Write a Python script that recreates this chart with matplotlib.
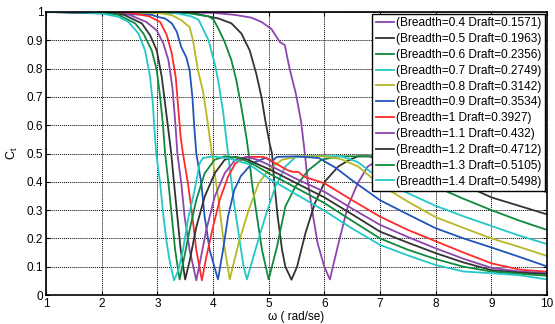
import matplotlib
matplotlib.use("Agg")
import matplotlib.pyplot as plt

plt.rcParams['font.family'] = ['Liberation Sans', 'DejaVu Sans']

labels = ["(Breadth=0.4 Draft=0.1571)", "(Breadth=0.5 Draft=0.1963)",
          "(Breadth=0.6 Draft=0.2356)", "(Breadth=0.7 Draft=0.2749)",
          "(Breadth=0.8 Draft=0.3142)", "(Breadth=0.9 Draft=0.3534)",
          "(Breadth=1 Draft=0.3927)", "(Breadth=1.1 Draft=0.432)",
          "(Breadth=1.2 Draft=0.4712)", "(Breadth=1.3 Draft=0.5105)",
          "(Breadth=1.4 Draft=0.5498)"]
colors = ["#8e44ad", "#333333", "#0f8a3c", "#22c8c8", "#b8b825", "#2255bb",
          "#ff2a2a", "#8e44ad", "#333333", "#0f8a3c", "#22c8c8"]

w_04 = [1, 4.0, 4.39, 4.69, 4.87, 5.05, 5.2, 5.29, 5.37, 5.49, 5.58, 5.65, 5.7, 5.79, 5.88, 6.0, 6.1,
        6.24, 6.42, 6.6, 6.78, 7.0, 7.3, 8.0, 8.5, 9.0, 9.5, 10]
ct_04 = [1, 0.997, 0.99, 0.98, 0.965, 0.94, 0.894, 0.883, 0.805, 0.71, 0.616, 0.5, 0.406, 0.288, 0.182, 0.1, 0.055,
         0.171, 0.312, 0.395, 0.454, 0.48, 0.49, 0.49, 0.47, 0.44, 0.41, 0.362]

w_05 = [1, 3.6, 4.1, 4.33, 4.51, 4.66, 4.78, 4.87, 4.94, 5.02, 5.06, 5.1, 5.16, 5.24, 5.3, 5.41,
        5.51, 5.66, 5.83, 6.01, 6.25, 6.43, 6.6, 7.2, 7.6, 8.0, 8.5, 9.0, 9.5, 10]
ct_05 = [1, 0.997, 0.977, 0.96, 0.924, 0.864, 0.78, 0.7, 0.616, 0.533, 0.5, 0.4, 0.28, 0.16, 0.1, 0.054,
         0.1, 0.218, 0.324, 0.401, 0.454, 0.475, 0.49, 0.49, 0.475, 0.44, 0.39, 0.345, 0.315, 0.285]

w_06 = [1, 3.5, 3.92, 4.01, 4.1, 4.21, 4.33, 4.42, 4.51, 4.6, 4.64, 4.7, 4.79, 4.88, 5.0,
        5.15, 5.3, 5.48, 5.72, 5.95, 6.25, 6.8, 7.2, 7.5, 8.0, 8.5, 9.0, 9.5, 10]
ct_06 = [1, 0.997, 0.985, 0.973, 0.94, 0.894, 0.83, 0.758, 0.663, 0.557, 0.5, 0.395, 0.277, 0.159, 0.055,
         0.171, 0.313, 0.383, 0.442, 0.478, 0.49, 0.49, 0.465, 0.44, 0.383, 0.34, 0.3, 0.263, 0.23]

w_07 = [1, 3.3, 3.6, 3.74, 3.92, 4.04, 4.1, 4.18, 4.27, 4.37, 4.46, 4.55, 4.61,
        4.76, 4.94, 5.12, 5.3, 5.48, 5.8, 6.3, 6.6, 7.0, 7.5, 8.0, 8.5, 9.0, 9.5, 10]
ct_07 = [1, 0.997, 0.985, 0.973, 0.9, 0.81, 0.75, 0.65, 0.5, 0.335, 0.217, 0.1, 0.055,
         0.159, 0.277, 0.383, 0.454, 0.487, 0.492, 0.49, 0.47, 0.41, 0.36, 0.315, 0.278, 0.244, 0.21, 0.18]

w_08 = [1, 3.0, 3.26, 3.43, 3.54, 3.58, 3.64, 3.73, 3.82, 3.9, 3.98, 4.1, 4.19, 4.3,
        4.46, 4.64, 4.82, 5.0, 5.24, 5.54, 6.0, 6.3, 6.6, 7.0, 7.5, 8.0, 8.5, 9.0, 9.5, 10]
ct_08 = [1, 0.997, 0.989, 0.971, 0.953, 0.947, 0.9, 0.794, 0.72, 0.616, 0.5, 0.335, 0.19, 0.055,
         0.183, 0.3, 0.395, 0.442, 0.478, 0.49, 0.49, 0.48, 0.455, 0.39, 0.33, 0.275, 0.237, 0.2, 0.17, 0.138]

w_09 = [1, 2.9, 3.0, 3.14, 3.26, 3.35, 3.43, 3.52, 3.58, 3.63, 3.66, 3.7, 3.79, 3.85, 3.94, 4.09,
        4.18, 4.27, 4.38, 4.5, 4.7, 4.95, 5.05, 5.15, 5.5, 5.9, 6.2, 6.5, 7.0, 7.5, 8.0, 8.5, 9.0, 9.5, 10]
ct_09 = [1, 0.99, 0.983, 0.977, 0.96, 0.93, 0.876, 0.84, 0.794, 0.7, 0.604, 0.5, 0.395, 0.277, 0.159, 0.055,
         0.159, 0.277, 0.37, 0.42, 0.465, 0.485, 0.472, 0.488, 0.49, 0.484, 0.45, 0.405, 0.335, 0.285, 0.236, 0.2, 0.168, 0.135, 0.101]

w_10 = [1, 2.5, 2.85, 3.05, 3.17, 3.26, 3.33, 3.38, 3.42, 3.46, 3.55, 3.63, 3.7, 3.8,
        3.88, 4.0, 4.12, 4.27, 4.4, 4.6, 4.9, 5.0, 5.23, 5.35, 5.44, 5.53, 5.65, 6.0, 6.5, 7.0, 7.5, 8.0, 8.5, 9.0, 9.5, 10]
ct_10 = [1, 0.997, 0.985, 0.965, 0.918, 0.853, 0.77, 0.651, 0.557, 0.5, 0.395, 0.277, 0.159, 0.052,
         0.134, 0.24, 0.336, 0.418, 0.465, 0.488, 0.488, 0.48, 0.453, 0.44, 0.435, 0.435, 0.417, 0.395, 0.335, 0.277, 0.23, 0.19, 0.15, 0.112, 0.09, 0.082]

w_11 = [1, 2.0, 2.5, 2.8, 2.99, 3.11, 3.2, 3.27, 3.32, 3.36, 3.43, 3.49, 3.58, 3.7,
        3.76, 3.88, 4.03, 4.21, 4.4, 4.6, 4.8, 5.0, 5.5, 6.0, 6.5, 7.0, 7.5, 8.0, 8.5, 9.0, 9.5, 10]
ct_11 = [1, 0.999, 0.99, 0.965, 0.935, 0.888, 0.829, 0.734, 0.616, 0.5, 0.395, 0.277, 0.159, 0.052,
         0.11, 0.23, 0.347, 0.43, 0.478, 0.488, 0.478, 0.46, 0.41, 0.365, 0.305, 0.248, 0.205, 0.165, 0.128, 0.096, 0.083, 0.077]

w_12 = [1, 2.0, 2.4, 2.72, 2.87, 2.99, 3.08, 3.14, 3.2, 3.25, 3.3, 3.36, 3.42, 3.5,
        3.58, 3.7, 3.85, 4.03, 4.21, 4.4, 4.6, 5.0, 5.5, 6.0, 6.5, 7.0, 7.5, 8.0, 8.5, 9.0, 9.5, 10]
ct_12 = [1, 0.999, 0.99, 0.96, 0.918, 0.864, 0.77, 0.675, 0.58, 0.5, 0.395, 0.277, 0.159, 0.055,
         0.12, 0.24, 0.347, 0.43, 0.478, 0.488, 0.48, 0.445, 0.395, 0.345, 0.285, 0.224, 0.185, 0.148, 0.115, 0.088, 0.079, 0.074]

w_13 = [1, 2.0, 2.3, 2.6, 2.75, 2.9, 2.99, 3.05, 3.1, 3.14, 3.2, 3.26, 3.32, 3.4,
        3.46, 3.58, 3.7, 3.85, 4.03, 4.21, 4.45, 4.7, 5.0, 5.5, 6.0, 6.5, 7.0, 7.5, 8.0, 8.5, 9.0, 9.5, 10]
ct_13 = [1, 0.998, 0.99, 0.96, 0.924, 0.864, 0.794, 0.7, 0.604, 0.5, 0.395, 0.277, 0.159, 0.055,
         0.11, 0.23, 0.336, 0.43, 0.478, 0.49, 0.485, 0.465, 0.43, 0.378, 0.325, 0.262, 0.2, 0.16, 0.127, 0.1, 0.083, 0.075, 0.068]

w_14 = [1, 1.5, 2.0, 2.3, 2.48, 2.66, 2.78, 2.87, 2.92, 2.95, 2.98, 3.05, 3.11, 3.17, 3.23, 3.3,
        3.38, 3.46, 3.55, 3.67, 3.76, 3.82, 4.0, 4.3, 4.65, 5.0, 5.5, 6.0, 6.5, 7.0, 7.5, 8.0, 8.5, 9.0, 9.5, 10]
ct_14 = [1, 1, 0.995, 0.983, 0.965, 0.924, 0.864, 0.77, 0.675, 0.58, 0.5, 0.395, 0.277, 0.182, 0.111, 0.052,
         0.088, 0.159, 0.265, 0.371, 0.466, 0.484, 0.49, 0.482, 0.462, 0.412, 0.355, 0.298, 0.235, 0.177, 0.14, 0.106, 0.083, 0.077, 0.07, 0.055]

series = [(w_04, ct_04), (w_05, ct_05), (w_06, ct_06), (w_07, ct_07), (w_08, ct_08),
          (w_09, ct_09), (w_10, ct_10), (w_11, ct_11), (w_12, ct_12), (w_13, ct_13), (w_14, ct_14)]

fig = plt.figure(figsize=(5.55, 3.24), dpi=100)
ax = fig.add_axes([46/555, 1-295/324, (547-46)/555, (295-12)/324])

for (w, c), lab, col in zip(series, labels, colors):
    ax.plot(w, c, color=col, lw=1.3, label=lab)

ax.set_xlim(1, 10)
ax.set_ylim(0, 1)
ax.set_xticks(range(1, 11))
ax.set_yticks([i/10 for i in range(11)])
ax.set_yticklabels(["0", "0.1", "0.2", "0.3", "0.4", "0.5", "0.6", "0.7", "0.8", "0.9", "1"])
ax.tick_params(direction='in', top=True, right=True, labelsize=8.5, length=3, width=0.8, pad=2)
ax.grid(True, color='black', linestyle=(0, (1, 1)), linewidth=0.7)
for s in ax.spines.values():
    s.set_linewidth(1.2)

ax.set_xlabel("ω ( rad/se)", fontsize=8.5, labelpad=1)
ax.set_ylabel(r"C$_\mathregular{t}$", fontsize=9, labelpad=5)

leg = ax.legend(loc='upper right', fontsize=8.6, frameon=True, fancybox=False,
                edgecolor='black', framealpha=1, borderaxespad=0.15, handlelength=1.5,
                handletextpad=0.2, labelspacing=0.32, borderpad=0.3)
leg.get_frame().set_linewidth(1.0)

fig.savefig("out.png", dpi=100)
